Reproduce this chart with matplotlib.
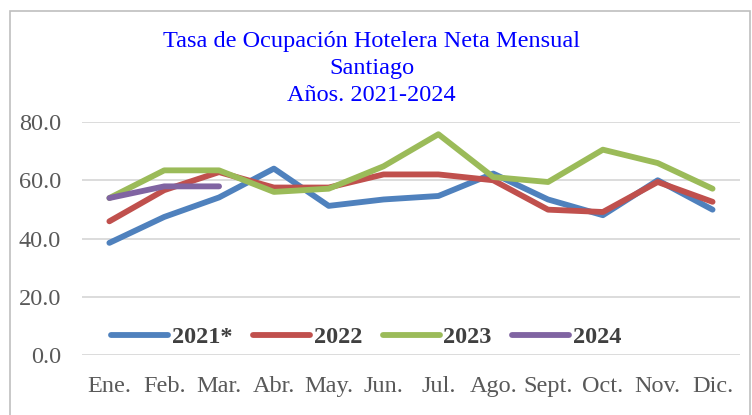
import matplotlib as mpl
import matplotlib.pyplot as plt
from matplotlib.patches import Rectangle

mpl.use('Agg')

meses = ["Ene.", "Feb.", "Mar.", "Abr.", "May.", "Jun.", "Jul.", "Ago.", "Sept.", "Oct.", "Nov.", "Dic."]
t2021 = [38.5, 47.4, 54.1, 64.0, 51.2, 53.4, 54.6, 62.3, 53.4, 48.0, 60.0, 49.9]
t2022 = [45.9, 56.6, 62.8, 57.5, 57.5, 62.0, 62.0, 60.0, 49.9, 49.1, 59.4, 52.6]
t2023 = [53.9, 63.4, 63.4, 56.0, 57.1, 64.8, 75.8, 61.1, 59.4, 70.5, 65.9, 57.1]
t2024 = [53.9, 57.9, 57.9]

plt.rcParams['font.family'] = ['Liberation Serif', 'DejaVu Serif']

fig = plt.figure(figsize=(7.52, 4.15), dpi=100)
ax = fig.add_axes([0.109, 0.1446, 0.875, 0.5614])

x = list(range(len(meses)))
ax.plot(x, t2021, color="#4F81BD", lw=4.2, label="2021*", solid_capstyle='round')
ax.plot(x, t2022, color="#C0504D", lw=4.2, label="2022", solid_capstyle='round')
ax.plot(x, t2023, color="#9BBB59", lw=4.2, label="2023", solid_capstyle='round')
ax.plot(x[:len(t2024)], t2024, color="#8064A2", lw=4.2, label="2024", solid_capstyle='round')

ax.set_xlim(-0.5, 11.5)
ax.set_ylim(0, 80)
ax.set_yticks([0, 20, 40, 60, 80])
ax.set_yticklabels(["0.0", "20.0", "40.0", "60.0", "80.0"])
ax.set_xticks(x)
ax.set_xticklabels(meses)
ax.grid(axis='y', color="#D9D9D9", lw=1.3)
ax.set_axisbelow(True)
for s in ax.spines.values():
    s.set_visible(False)
ax.tick_params(axis='both', length=0, labelsize=17.5, labelcolor="#595959")
ax.tick_params(axis='y', pad=15)
ax.tick_params(axis='x', pad=15)

leg = ax.legend(loc='center', bbox_to_anchor=(0.432, 0.077), ncol=4, frameon=False,
                handlelength=2.35, handletextpad=0.15, columnspacing=0.85,
                prop={'weight': 'bold', 'size': 17.5})
for t in leg.get_texts():
    t.set_color("#404040")

fig.text(0.494, 0.834, "Tasa de Ocupación Hotelera Neta Mensual\nSantiago\nAños. 2021-2024",
         ha='center', va='center', color="#0000FF", fontsize=17.5, linespacing=1.38)

fig.patches.append(Rectangle((10 / 752, -0.1), 740 / 752, 1 - 11 / 415 + 0.1,
                             transform=fig.transFigure, fill=False, edgecolor="#BFBFBF", lw=1.2))

fig.savefig('out.png')
